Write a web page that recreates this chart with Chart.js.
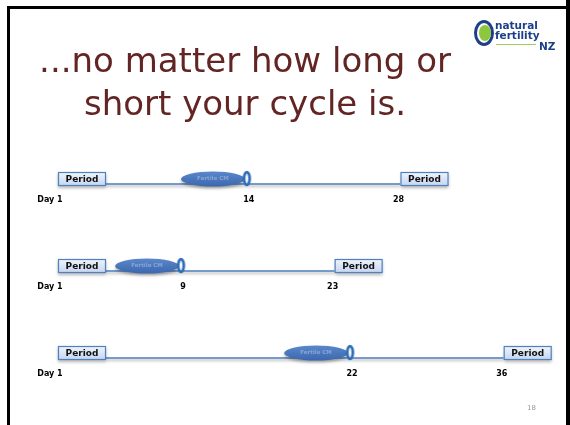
<!DOCTYPE html>
<html>
<head>
<meta charset="utf-8">
<script src="https://cdn.jsdelivr.net/npm/chart.js@4.4.0/dist/chart.umd.min.js"></script>
<style>
  html, body { margin: 0; padding: 0; background: #fff; }
  #slide { position: relative; width: 570px; height: 425px; overflow: hidden; background: #fff; }
  #chart { position: absolute; left: 0; top: 0; }
  .frame { position: absolute; background: #000; }
  #title {
    position: absolute; left: 0; top: 39px; width: 490px; text-align: center;
    font-family: "DejaVu Sans", sans-serif; font-size: 34px; line-height: 43px; color: #632523;
  }
  #logo { position: absolute; left: 474px; top: 19px; width: 92px; height: 34px; }
  #logo .ring {
    position: absolute; left: 0; top: 1px; width: 14px; height: 20px; border-radius: 50%;
    border: 3px solid #1d3f8a; background: #fff;
  }
  #logo .seed {
    position: absolute; left: 5px; top: 6px; width: 12px; height: 16px; border-radius: 50%;
    background: #8dc63f;
  }
  #logo .txt {
    position: absolute; left: 21px; font-family: "DejaVu Sans", sans-serif; font-weight: bold;
    font-size: 10.5px; line-height: 10px; color: #1d3f8a;
  }
  #logo .tag { position: absolute; left: 22px; top: 25px; width: 40px; height: 1px; background: #9fd15a; }
  #page {
    position: absolute; left: 527px; top: 404px; font-family: "DejaVu Sans", sans-serif;
    font-size: 7px; color: #9a9a9a;
  }
</style>
</head>
<body>
<div id="slide">
  <canvas id="chart" width="570" height="425"></canvas>
  <div class="frame" style="left:7px; top:6px; width:560px; height:3px;"></div>
  <div class="frame" style="left:7px; top:6px; width:3px; height:419px;"></div>
  <div class="frame" style="left:566px; top:0; width:4px; height:425px;"></div>
  <div id="title">...no matter how long or<br>short your cycle is.</div>
  <div id="logo">
    <div class="ring"></div>
    <div class="seed"></div>
    <div class="txt" style="top:1px;">natural</div>
    <div class="txt" style="top:11px;">fertility</div>
    <div class="txt" style="left:65px; top:22px;">NZ</div>
    <div class="tag"></div>
  </div>
  <div id="page">18</div>
</div>
<script>
// Cycle data
const cycleNames = ['28 day cycle', '23 day cycle', '36 day cycle'];
const cycleLength = [28, 23, 36];
const ovulationDay = [14, 9, 22];
const fertileDays = [6, 6, 6];
const startLabel = 'Day 1';
const periodLabel = 'Period';
const fertileLabel = 'Fertile CM';

// each row gets its own day axis (slide is not drawn to one scale)
const rowAxisMin = [-3.2, -2.2, -4.6];
const axisSpan = 45;

const BOX_W = 48;
const BOX_H = 14;

function ovumMarker() {
    const c = document.createElement('canvas');
    c.width = 11; c.height = 17;
    const g = c.getContext('2d');
    g.fillStyle = '#fff';
    g.strokeStyle = '#2f6db5';
    g.lineWidth = 2.8;
    g.beginPath();
    g.ellipse(5.5, 8.5, 2.8, 6.3, 0, 0, Math.PI * 2);
    g.fill();
    g.stroke();
    return c;
}

function drawPeriod(ctx, x, y) {
    const top = y - 6.5;
    ctx.save();
    ctx.shadowColor = 'rgba(0,0,0,0.3)';
    ctx.shadowBlur = 3;
    ctx.shadowOffsetY = 2;
    const grad = ctx.createLinearGradient(0, top, 0, top + BOX_H);
    grad.addColorStop(0, '#f1f5fc');
    grad.addColorStop(1, '#c3d5f0');
    ctx.fillStyle = grad;
    ctx.fillRect(x, top, BOX_W, BOX_H);
    ctx.restore();
    ctx.strokeStyle = '#4f81bd';
    ctx.lineWidth = 1.2;
    ctx.strokeRect(x + 0.5, top + 0.5, BOX_W - 1, BOX_H - 1);
    ctx.fillStyle = '#111';
    ctx.font = 'bold 9px "DejaVu Sans"';
    ctx.textAlign = 'center';
    ctx.textBaseline = 'middle';
    ctx.fillText(periodLabel, x + BOX_W / 2, top + BOX_H / 2 + 0.5);
}

const timelinePlugin = {
    id: 'timeline',
    beforeDatasetsDraw(chart) {
        const ctx = chart.ctx;
        const yScale = chart.scales.y;
        const left = chart.chartArea.left;
        cycleLength.forEach((len, i) => {
            const xs = chart.scales['x' + i];
            const y = yScale.getPixelForValue(i);
            const xOv = xs.getPixelForValue(ovulationDay[i]);
            const xEnd = xs.getPixelForValue(len);
            const xFert = xs.getPixelForValue(ovulationDay[i] - fertileDays[i]);

            // timeline
            ctx.save();
            ctx.shadowColor = 'rgba(0,0,0,0.35)';
            ctx.shadowBlur = 3;
            ctx.shadowOffsetY = 2;
            ctx.strokeStyle = '#4a7ebb';
            ctx.lineWidth = 1.5;
            ctx.beginPath();
            ctx.moveTo(left + BOX_W, y + 5.5);
            ctx.lineTo(xEnd, y + 5.5);
            ctx.stroke();
            ctx.restore();

            // fertile mucus window
            const cx = (xFert + xOv - 2) / 2;
            const rx = (xOv - 2 - xFert) / 2;
            ctx.save();
            ctx.shadowColor = 'rgba(0,0,0,0.3)';
            ctx.shadowBlur = 3;
            ctx.shadowOffsetY = 2;
            const g = ctx.createLinearGradient(0, y - 7, 0, y + 8);
            g.addColorStop(0, '#5b88cb');
            g.addColorStop(1, '#3a67ae');
            ctx.fillStyle = g;
            ctx.beginPath();
            ctx.ellipse(cx, y + 0.5, rx, 7.5, 0, 0, Math.PI * 2);
            ctx.fill();
            ctx.restore();
            ctx.fillStyle = '#8aa4d4';
            ctx.font = 'bold 5.5px "DejaVu Sans"';
            ctx.textAlign = 'center';
            ctx.textBaseline = 'middle';
            ctx.fillText(fertileLabel, cx, y + 0.5);
        });
    },
    afterDatasetsDraw(chart) {
        const ctx = chart.ctx;
        const yScale = chart.scales.y;
        const left = chart.chartArea.left;
        cycleLength.forEach((len, i) => {
            const xs = chart.scales['x' + i];
            const y = yScale.getPixelForValue(i);
            const xOv = xs.getPixelForValue(ovulationDay[i]);
            const xEnd = xs.getPixelForValue(len);
            drawPeriod(ctx, left, y);
            drawPeriod(ctx, xEnd, y);

            ctx.fillStyle = '#000';
            ctx.font = 'bold 8px "DejaVu Sans"';
            ctx.textAlign = 'center';
            ctx.textBaseline = 'middle';
            ctx.fillText(startLabel, left - 8, y + 21);
            ctx.fillText(String(ovulationDay[i]), xOv + 2, y + 21);
            ctx.fillText(String(len), xEnd - 2, y + 21);
        });
    }
};

const marker = ovumMarker();
const xScales = {};
rowAxisMin.forEach((m, i) => {
    xScales['x' + i] = { type: 'linear', display: false, min: m, max: m + axisSpan };
});

new Chart(document.getElementById('chart'), {
    type: 'scatter',
    data: {
        datasets: cycleNames.map((name, i) => ({
            label: name,
            xAxisID: 'x' + i,
            data: [{ x: ovulationDay[i], y: i }],
            pointStyle: marker,
            pointRadius: 6
        }))
    },
    options: {
        responsive: false,
        animation: false,
        events: [],
        layout: { padding: { left: 58, right: 18, top: 135, bottom: 29 } },
        scales: Object.assign({}, xScales, {
            y: { type: 'linear', display: false, min: -0.5, max: 2.5, reverse: true }
        }),
        plugins: { legend: { display: false }, tooltip: { enabled: false }, title: { display: false } }
    },
    plugins: [timelinePlugin]
});
</script>
</body>
</html>
